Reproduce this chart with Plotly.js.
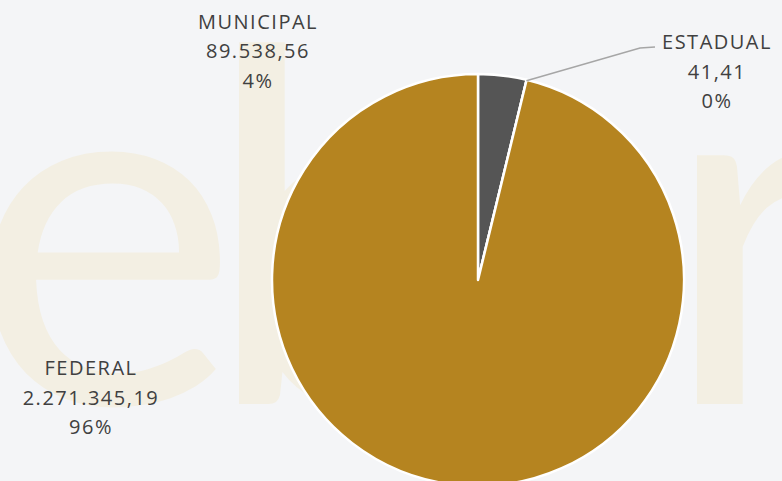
<!DOCTYPE html>
<html>
<head>
<meta charset="utf-8">
<script src="https://cdn.plot.ly/plotly-3.0.1.min.js"></script>
<style>
  html, body { margin:0; padding:0; width:782px; height:481px; overflow:hidden; background:#f4f5f7; }
  #wm { position:absolute; left:0; top:0; width:782px; height:481px; overflow:hidden; z-index:0; }
  .wl { position:absolute; font-family:Lato, "Open Sans", sans-serif; font-weight:400; color:#f3efe3; line-height:1; font-size:491px; transform:scaleX(1.04); transform-origin:0 0; }
  #plot { position:absolute; left:0; top:0; z-index:1; }
  #plot .annotation-text { letter-spacing:1.5px; }
</style>
</head>
<body>
<div id="wm"><span class="wl" style="left:-30px;top:-31px;">e</span><span class="wl" style="left:203px;top:-31px;">b</span><span class="wl" style="left:661px;top:-31px;">r</span></div>
<div id="plot"></div>
<script>
const categories = ["MUNICIPAL", "ESTADUAL", "FEDERAL"];
const values = [89538.56, 41.41, 2271345.19];
const colors = ["#555555", "#555555", "#b58420"];

function fmtBR(v) {
  const parts = v.toFixed(2).split(".");
  const intPart = parts[0].replace(/\B(?=(\d{3})+(?!\d))/g, ".");
  return intPart + "," + parts[1];
}
const total = values.reduce((a, b) => a + b, 0);

const W = 782, H = 500;
const cx = 478, cy = 280, R = 206;
// label centers (px) and line spacing
const labelPos = [[258, 21], [717, 41], [91, 367]];
const lineGap = 29.5;

const annotations = [];
categories.forEach((c, i) => {
  const lines = [c, fmtBR(values[i]), Math.round(values[i] / total * 100) + "%"];
  lines.forEach((t, k) => {
    annotations.push({
      xref: "paper", yref: "paper",
      x: labelPos[i][0] / W, y: 1 - (labelPos[i][1] + k * lineGap) / H,
      xanchor: "center", yanchor: "middle", showarrow: false, borderpad: 0,
      width: 150, height: 26, align: "center",
      text: t, font: { family: "'Open Sans', Lato, sans-serif", size: 20, color: "#404040" }
    });
  });
});

// leader line for ESTADUAL
const a = (values[0] + values[1] / 2) / total * 2 * Math.PI;
const px = cx + (R - 1) * Math.sin(a), py = cy - (R - 1) * Math.cos(a);
const toP = (x, y) => [x / W, 1 - y / H];
const p1 = toP(px, py), p2 = toP(640, 48), p3 = toP(655, 47);
const shapes = [{
  type: "path", xref: "paper", yref: "paper",
  path: `M ${p1[0]} ${p1[1]} L ${p2[0]} ${p2[1]} L ${p3[0]} ${p3[1]}`,
  line: { color: "#a6a6a6", width: 1.5 }
}];

const trace = {
  type: "pie",
  labels: categories,
  values: values,
  sort: false,
  direction: "clockwise",
  rotation: 0,
  textinfo: "none",
  hoverinfo: "label+value+percent",
  marker: { colors: colors, line: { color: "#ffffff", width: 2.5 } },
  domain: { x: [(cx - R) / W, (cx + R) / W], y: [1 - (cy + R) / H, 1 - (cy - R) / H] }
};

Plotly.newPlot("plot", [trace], {
  width: W, height: H,
  margin: { l: 0, r: 0, t: 0, b: 0 },
  paper_bgcolor: "rgba(0,0,0,0)",
  plot_bgcolor: "rgba(0,0,0,0)",
  showlegend: false,
  annotations: annotations,
  shapes: shapes
}, { displayModeBar: false, staticPlot: true });
</script>
</body>
</html>
